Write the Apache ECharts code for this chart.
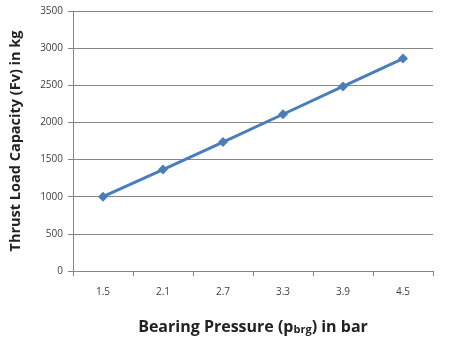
<!DOCTYPE html>
<html><head><meta charset="utf-8">
<script src="https://cdn.jsdelivr.net/npm/echarts@6/dist/echarts.min.js"></script>
<style>html,body{margin:0;padding:0;background:#fff}#c{width:453px;height:340px}</style>
</head><body><div id="c"></div>
<script>
const categories = ['1.5','2.1','2.7','3.3','3.9','4.5'];
const thrustLoad = [1000, 1365, 1735, 2110, 2485, 2860];
const yTicks = [0, 500, 1000, 1500, 2000, 2500, 3000, 3500];

const chart = echarts.init(document.getElementById('c'), null, {renderer:'canvas'});
chart.setOption({
  animation: false,
  backgroundColor: '#ffffff',
  grid: {left: 73, right: 20, top: 11, bottom: 65, containLabel: false},
  xAxis: {
    type: 'category', data: categories, boundaryGap: true,
    name: 'Bearing Pressure (p{sub|brg}) in bar', nameLocation: 'middle', nameGap: 48,
    nameTextStyle: {fontFamily: 'Open Sans', fontWeight: 'bold', fontSize: 16, color: '#222',
      rich: {sub: {fontFamily: 'Open Sans', fontWeight: 'bold', fontSize: 11, color: '#222', verticalAlign: 'bottom', padding: [5,0,0,0]}}},
    axisLine: {lineStyle: {color: '#868686', width: 1}},
    axisTick: {show: true, inside: false, length: 5, lineStyle: {color: '#868686'}},
    axisLabel: {fontFamily: 'Open Sans', fontSize: 10, color: '#404040', margin: 16},
    splitLine: {show: false}
  },
  yAxis: {
    type: 'value', min: yTicks[0], max: yTicks[yTicks.length-1], interval: 500,
    name: 'Thrust Load Capacity (Fv) in kg', nameLocation: 'middle', nameGap: 50,
    nameTextStyle: {fontFamily: 'Open Sans', fontWeight: 'bold', fontSize: 14.5, color: '#222'},
    axisLine: {show: true, lineStyle: {color: '#868686', width: 1}},
    axisTick: {show: true, inside: false, length: 5, lineStyle: {color: '#868686'}},
    axisLabel: {fontFamily: 'Open Sans', fontSize: 10, color: '#404040', margin: 10, formatter: v => String(v)},
    splitLine: {show: true, lineStyle: {color: '#868686', width: 1}}
  },
  series: [{
    type: 'line', data: thrustLoad,
    symbol: 'diamond', symbolSize: 10,
    lineStyle: {color: '#4a7ebb', width: 3},
    itemStyle: {color: '#4a7ebb'}
  }]
});
</script></body></html>
